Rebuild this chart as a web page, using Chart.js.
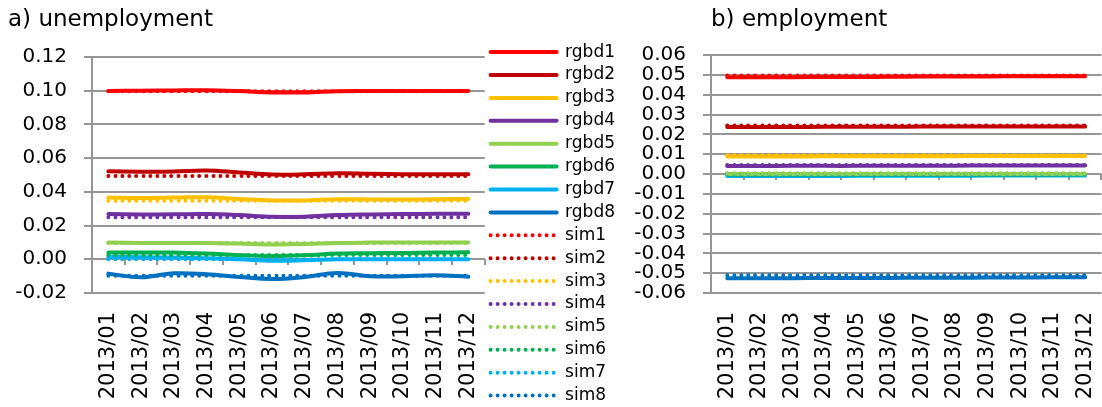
<!DOCTYPE html>
<html>
<head>
<meta charset="utf-8">
<script src="https://cdn.jsdelivr.net/npm/chart.js@4.4.0/dist/chart.umd.min.js"></script>
<style>
  html, body { margin: 0; padding: 0; background: #fff; }
  body { width: 1102px; height: 407px; position: relative; overflow: hidden; }
  #unemp { position: absolute; left: 0; top: 0; }
  #emp { position: absolute; left: 622px; top: 0; }
</style>
</head>
<body>
<canvas id="unemp" width="625" height="407"></canvas>
<canvas id="emp" width="480" height="407"></canvas>
<script>
// categories
const months = ['2013/01', '2013/02', '2013/03', '2013/04', '2013/05', '2013/06',
                '2013/07', '2013/08', '2013/09', '2013/10', '2013/11', '2013/12'];
const rgbdNames = ['rgbd1', 'rgbd2', 'rgbd3', 'rgbd4', 'rgbd5', 'rgbd6', 'rgbd7', 'rgbd8'];
const simNames = ['sim1', 'sim2', 'sim3', 'sim4', 'sim5', 'sim6', 'sim7', 'sim8'];
const colors = ['#FF0000', '#C00000', '#FFC000', '#7030A0', '#92D050', '#00B050', '#00B0F0', '#0070C0'];

// y tick labels
const unempTicks = [-0.02, 0.00, 0.02, 0.04, 0.06, 0.08, 0.10, 0.12];
const empTicks = [-0.06, -0.05, -0.04, -0.03, -0.02, -0.01, 0.00, 0.01, 0.02, 0.03, 0.04, 0.05, 0.06];

// a) unemployment
const unempRgbd = [
  [0.0999, 0.1000, 0.1002, 0.1003, 0.0998, 0.0990, 0.0990, 0.0997, 0.0998, 0.0998, 0.0998, 0.0998],
  [0.0522, 0.0520, 0.0521, 0.0527, 0.0515, 0.0503, 0.0504, 0.0511, 0.0508, 0.0505, 0.0504, 0.0504],
  [0.0366, 0.0364, 0.0366, 0.0368, 0.0358, 0.0349, 0.0349, 0.0356, 0.0355, 0.0355, 0.0356, 0.0358],
  [0.0268, 0.0266, 0.0267, 0.0268, 0.0262, 0.0252, 0.0253, 0.0262, 0.0266, 0.0268, 0.0270, 0.0270],
  [0.0099, 0.0097, 0.0097, 0.0097, 0.0093, 0.0088, 0.0090, 0.0097, 0.0099, 0.0099, 0.0099, 0.0099],
  [0.0040, 0.0040, 0.0040, 0.0034, 0.0024, 0.0020, 0.0024, 0.0034, 0.0036, 0.0038, 0.0040, 0.0041],
  [0.0014, 0.0012, 0.0010, 0.0006, 0.0000, -0.0008, -0.0006, 0.0000, 0.0000, 0.0000, 0.0000, 0.0000],
  [-0.0085, -0.0107, -0.0083, -0.0089, -0.0105, -0.0117, -0.0105, -0.0081, -0.0101, -0.0101, -0.0095, -0.0103]
];
const unempSim = [
  [0.0997, 0.0997, 0.0997, 0.0997, 0.0997, 0.0997, 0.0997, 0.0997, 0.0997, 0.0997, 0.0997, 0.0997],
  [0.0494, 0.0494, 0.0494, 0.0494, 0.0494, 0.0494, 0.0494, 0.0494, 0.0494, 0.0494, 0.0494, 0.0494],
  [0.0347, 0.0347, 0.0347, 0.0347, 0.0347, 0.0347, 0.0347, 0.0347, 0.0347, 0.0347, 0.0347, 0.0347],
  [0.0249, 0.0249, 0.0249, 0.0249, 0.0249, 0.0249, 0.0249, 0.0249, 0.0249, 0.0249, 0.0249, 0.0249],
  [0.0097, 0.0097, 0.0097, 0.0097, 0.0097, 0.0097, 0.0097, 0.0097, 0.0097, 0.0097, 0.0097, 0.0097],
  [0.0025, 0.0025, 0.0025, 0.0025, 0.0025, 0.0025, 0.0025, 0.0025, 0.0025, 0.0025, 0.0025, 0.0025],
  [0.0000, 0.0000, 0.0000, 0.0000, 0.0000, 0.0000, 0.0000, 0.0000, 0.0000, 0.0000, 0.0000, 0.0000],
  [-0.0097, -0.0097, -0.0097, -0.0097, -0.0097, -0.0097, -0.0097, -0.0097, -0.0097, -0.0097, -0.0097, -0.0097]
];

// b) employment
const empRgbd = [
  [0.0488, 0.0488, 0.0488, 0.0489, 0.0489, 0.0490, 0.0491, 0.0492, 0.0492, 0.0493, 0.0493, 0.0493],
  [0.0237, 0.0237, 0.0237, 0.0238, 0.0238, 0.0238, 0.0239, 0.0239, 0.0240, 0.0240, 0.0240, 0.0240],
  [0.0088, 0.0088, 0.0088, 0.0089, 0.0089, 0.0089, 0.0090, 0.0090, 0.0091, 0.0091, 0.0091, 0.0091],
  [0.0040, 0.0040, 0.0041, 0.0041, 0.0041, 0.0042, 0.0042, 0.0042, 0.0043, 0.0043, 0.0043, 0.0043],
  [0.0000, 0.0000, 0.0000, 0.0000, 0.0000, 0.0000, 0.0000, 0.0000, 0.0000, 0.0000, 0.0000, 0.0000],
  [-0.0003, -0.0003, -0.0003, -0.0003, -0.0003, -0.0003, -0.0003, -0.0003, -0.0003, -0.0003, -0.0003, -0.0003],
  [-0.0010, -0.0010, -0.0010, -0.0010, -0.0009, -0.0009, -0.0009, -0.0009, -0.0008, -0.0008, -0.0008, -0.0008],
  [-0.0525, -0.0525, -0.0525, -0.0524, -0.0524, -0.0524, -0.0523, -0.0523, -0.0522, -0.0522, -0.0521, -0.0521]
];
const empSim = [
  [0.0497, 0.0497, 0.0497, 0.0497, 0.0497, 0.0497, 0.0497, 0.0497, 0.0497, 0.0497, 0.0497, 0.0497],
  [0.0244, 0.0244, 0.0244, 0.0244, 0.0244, 0.0244, 0.0244, 0.0244, 0.0244, 0.0244, 0.0244, 0.0244],
  [0.0095, 0.0095, 0.0095, 0.0095, 0.0095, 0.0095, 0.0095, 0.0095, 0.0095, 0.0095, 0.0095, 0.0095],
  [0.0046, 0.0046, 0.0046, 0.0046, 0.0046, 0.0046, 0.0046, 0.0046, 0.0046, 0.0046, 0.0046, 0.0046],
  [0.0003, 0.0003, 0.0003, 0.0003, 0.0003, 0.0003, 0.0003, 0.0003, 0.0003, 0.0003, 0.0003, 0.0003],
  [0.0003, 0.0003, 0.0003, 0.0003, 0.0003, 0.0003, 0.0003, 0.0003, 0.0003, 0.0003, 0.0003, 0.0003],
  [0.0000, 0.0000, 0.0000, 0.0000, 0.0000, 0.0000, 0.0000, 0.0000, 0.0000, 0.0000, 0.0000, 0.0000],
  [-0.0510, -0.0510, -0.0510, -0.0510, -0.0510, -0.0510, -0.0510, -0.0510, -0.0510, -0.0510, -0.0510, -0.0510]
];

const gridColor = '#969696';
Chart.defaults.font.family = "'DejaVu Sans', sans-serif";
Chart.defaults.color = '#000';

function buildDatasets(rgbd, sim) {
  const sets = [];
  rgbd.forEach((vals, i) => {
    sets.push({
      label: rgbdNames[i], data: vals,
      borderColor: colors[i], backgroundColor: colors[i],
      borderWidth: 4, borderCapStyle: 'round', borderJoinStyle: 'round',
      pointRadius: 0, pointStyle: 'line', tension: 0.4, order: 2
    });
  });
  sim.forEach((vals, i) => {
    sets.push({
      label: simNames[i], data: vals,
      borderColor: colors[i], backgroundColor: colors[i],
      borderWidth: 4, borderCapStyle: 'round', borderDash: [0, 7],
      pointRadius: 0, pointStyle: 'line', tension: 0.4, order: 1
    });
  });
  return sets;
}

// legend items: keep dataset order and copy the dash pattern onto the line sample
function legendLabels(chart) {
  const items = Chart.defaults.plugins.legend.labels.generateLabels(chart);
  items.forEach(item => {
    const ds = chart.data.datasets[item.datasetIndex];
    item.lineDash = ds.borderDash || [];
    item.lineCap = 'round';
    item.lineWidth = 4;
    item.strokeStyle = ds.borderColor;
  });
  return items.sort((a, b) => a.datasetIndex - b.datasetIndex);
}

function buildScales(ticks, xHeight) {
  const step = Math.round((ticks[1] - ticks[0]) * 1e6) / 1e6;
  return {
    x: {
      type: 'category', offset: true,
      grid: { display: false, drawTicks: true, tickLength: 19 },
      border: { display: false },
      ticks: { color: '#000', font: { size: 21, lineHeight: 0.8 }, minRotation: 90, maxRotation: 90, padding: 0, autoSkip: false },
      afterFit: s => { s.height = xHeight; }
    },
    // tick marks on the zero line, like Excel's crossing axis
    x0: {
      type: 'category', position: { y: 0 }, offset: true,
      grid: { offset: true, drawOnChartArea: false, drawTicks: true, tickLength: 6, color: gridColor, lineWidth: 2 },
      border: { display: false },
      ticks: { display: false }
    },
    y: {
      type: 'linear', min: ticks[0], max: ticks[ticks.length - 1],
      ticks: {
        stepSize: step, autoSkip: false, color: '#000', font: { size: 20 }, padding: 17,
        callback: v => (Math.abs(v) < 1e-9 ? 0 : v).toFixed(2)
      },
      grid: { color: gridColor, lineWidth: 2, tickLength: 8 },
      border: { color: gridColor, width: 2 },
      afterFit: s => { s.width = 84; }
    }
  };
}

new Chart(document.getElementById('unemp'), {
  type: 'line',
  data: { labels: months, datasets: buildDatasets(unempRgbd, unempSim) },
  options: {
    responsive: false, animation: false, devicePixelRatio: 1,
    layout: { padding: { left: 8, right: 0, top: 0, bottom: -3 } },
    scales: buildScales(unempTicks, 117),
    plugins: {
      tooltip: { enabled: false },
      title: {
        display: true, text: 'a) unemployment', align: 'start', color: '#000',
        font: { size: 23, weight: 'normal' }, padding: { top: 6, bottom: 23.4 }
      },
      legend: {
        display: true, position: 'right', align: 'end',
        labels: {
          usePointStyle: true, pointStyleWidth: 66, padding: 5.9, color: '#000',
          font: { size: 17 },
          generateLabels: legendLabels
        }
      }
    }
  }
});

new Chart(document.getElementById('emp'), {
  type: 'line',
  data: { labels: months, datasets: buildDatasets(empRgbd, empSim) },
  options: {
    responsive: false, animation: false, devicePixelRatio: 1,
    layout: { padding: { left: 5, right: 0, top: 0, bottom: 0 } },
    scales: buildScales(empTicks, 114),
    plugins: {
      tooltip: { enabled: false },
      title: {
        display: true, text: 'b) employment', align: 'start', fullSize: false, color: '#000',
        font: { size: 23, weight: 'normal' }, padding: { top: 6, bottom: 21.4 }
      },
      legend: { display: false }
    }
  }
});
</script>
</body>
</html>
